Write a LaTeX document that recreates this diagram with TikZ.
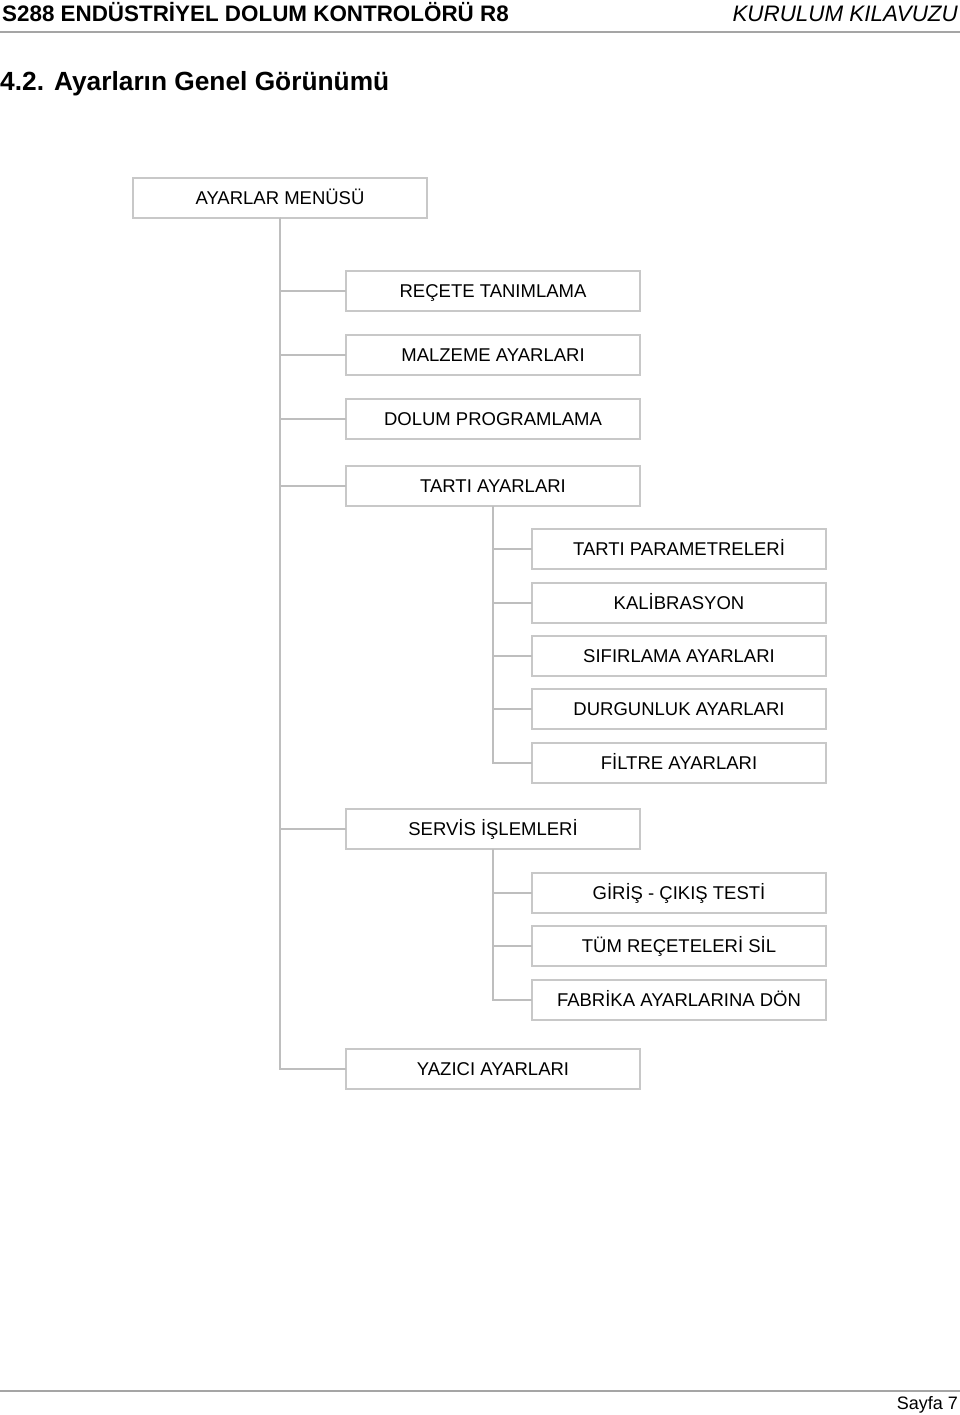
\documentclass[tikz,border=0pt]{standalone}
\usepackage{fontspec}
\setmainfont{Liberation Sans}
\usetikzlibrary{positioning}
\definecolor{boxgray}{RGB}{200,200,200}
\definecolor{linegray}{RGB}{190,190,190}
\definecolor{rulegray}{RGB}{165,165,165}

\begin{document}
\begin{tikzpicture}[x=1pt, y=-1pt, node distance=24pt,
    box/.style = {draw=boxgray, line width=1.3pt, minimum width=294pt, minimum height=40pt, inner sep=0pt, outer sep=0pt, text height=13.3pt, text depth=0pt, font=\fontsize{18.5}{22}\selectfont},
    link/.style = {draw=linegray, line width=1.3pt}]
        \useasboundingbox (0,0) rectangle (960,1415);
        % page header and footer
        \node[anchor=base west, inner sep=0pt, font=\bfseries\fontsize{22.4}{26}\selectfont] (head) at (2,22) {S288 ENDÜSTRİYEL DOLUM KONTROLÖRÜ R8};
        \node[anchor=base east, inner sep=0pt, font=\itshape\fontsize{22.4}{26}\selectfont] (guide) at (958,22) {KURULUM KILAVUZU};
        \draw[rulegray, line width=1.5pt] (0,32) -- (960,32);
        \node[anchor=base west, inner sep=0pt, font=\bfseries\fontsize{26.3}{30}\selectfont] (title) at (0,91) {4.2.\hspace{10pt}Ayarların Genel Görünümü};
        \draw[rulegray, line width=1.5pt] (0,1391) -- (960,1391);
        \node[anchor=base east, inner sep=0pt, font=\fontsize{18}{22}\selectfont] (page) at (958,1409) {Sayfa 7};
        % menu tree
        \node[box] (menu) at (280,198) {AYARLAR MENÜSÜ};
        \node[box] (recete) [below right=53pt and -81pt of menu] {REÇETE TANIMLAMA};
        \node[box] (malzeme) [below=of recete] {MALZEME AYARLARI};
        \node[box] (dolum) [below=of malzeme] {DOLUM PROGRAMLAMA};
        \node[box] (tarti) [below=27pt of dolum] {TARTI AYARLARI};
        \node[box] (param) [below right=23pt and -108pt of tarti] {TARTI PARAMETRELERİ};
        \node[box] (kalib) [below=14pt of param] {KALİBRASYON};
        \node[box] (sifir) [below=13pt of kalib] {SIFIRLAMA AYARLARI};
        \node[box] (durgun) [below=13pt of sifir] {DURGUNLUK AYARLARI};
        \node[box] (filtre) [below=14pt of durgun] {FİLTRE AYARLARI};
        \node[box] (servis) [below left=26pt and -108pt of filtre] {SERVİS İŞLEMLERİ};
        \node[box] (giris) [below right=24pt and -108pt of servis] {GİRİŞ - ÇIKIŞ TESTİ};
        \node[box] (tum) [below=13pt of giris] {TÜM REÇETELERİ SİL};
        \node[box] (fabrika) [below=14pt of tum] {FABRİKA AYARLARINA DÖN};
        \node[box] (yazici) [below left=29pt and -108pt of fabrika] {YAZICI AYARLARI};
        \draw[link] (menu.south) |- (recete.west);
        \draw[link] (menu.south) |- (malzeme.west);
        \draw[link] (menu.south) |- (dolum.west);
        \draw[link] (menu.south) |- (tarti.west);
        \draw[link] (menu.south) |- (servis.west);
        \draw[link] (menu.south) |- (yazici.west);
        \draw[link] (tarti.south) |- (param.west);
        \draw[link] (tarti.south) |- (kalib.west);
        \draw[link] (tarti.south) |- (sifir.west);
        \draw[link] (tarti.south) |- (durgun.west);
        \draw[link] (tarti.south) |- (filtre.west);
        \draw[link] (servis.south) |- (giris.west);
        \draw[link] (servis.south) |- (tum.west);
        \draw[link] (servis.south) |- (fabrika.west);
\end{tikzpicture}
\end{document}
